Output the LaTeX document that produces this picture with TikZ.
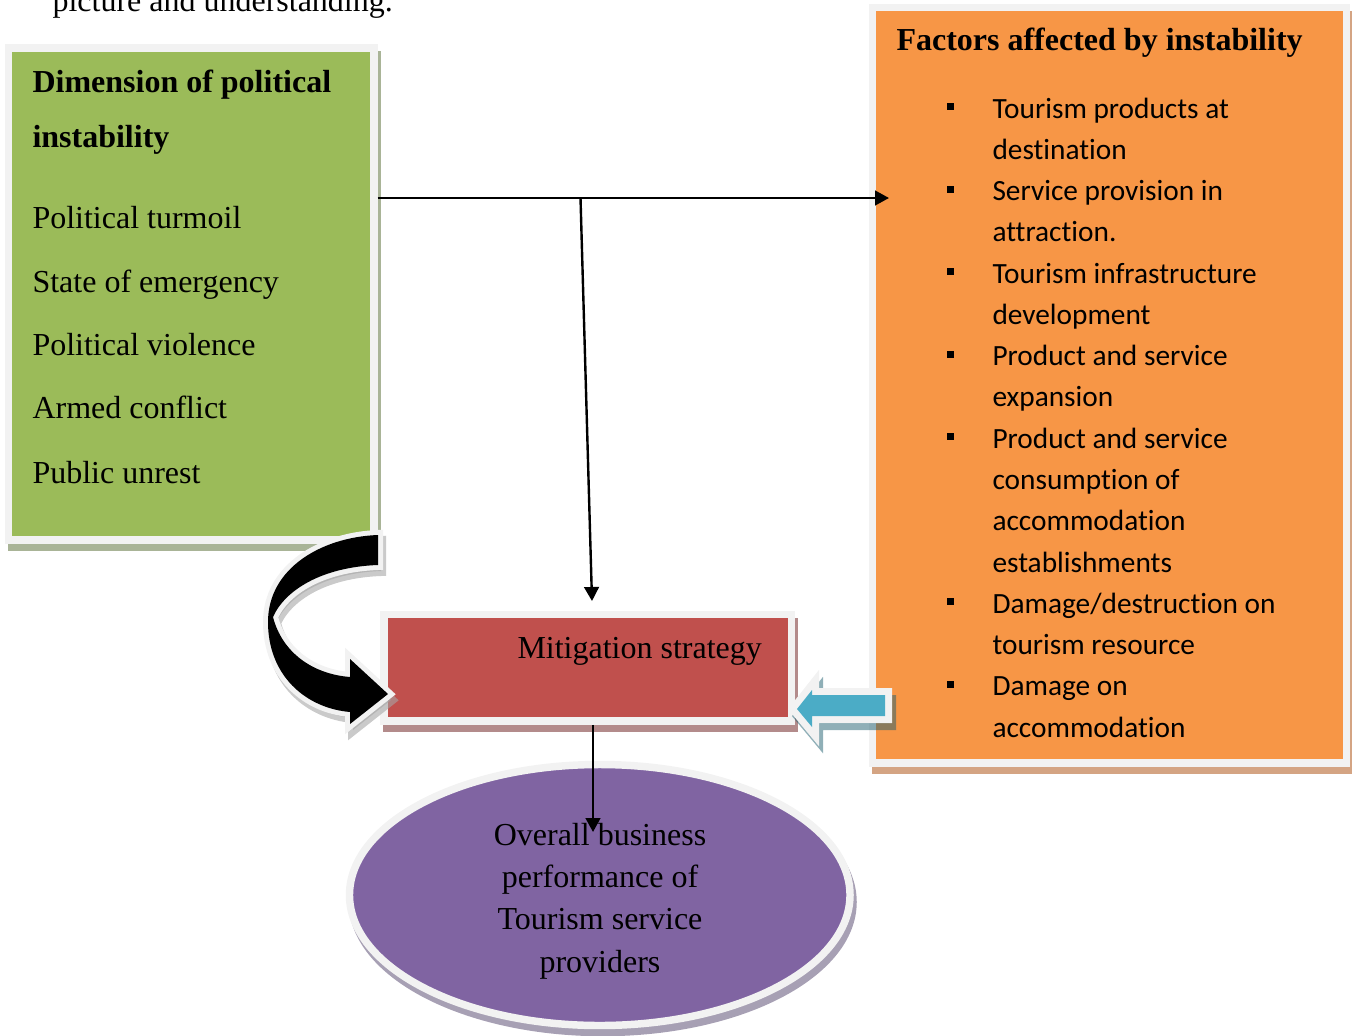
\documentclass[tikz,border=0pt]{standalone}
\usepackage{fontspec}
\setmainfont{Liberation Serif}
\newfontfamily\calfont[Ligatures=NoCommon]{Carlito}
\usetikzlibrary{arrows.meta,shapes.geometric}

\definecolor{framegray}{HTML}{F2F2F2}
\definecolor{dimgreen}{HTML}{9BBB59}
\definecolor{dimshadow}{HTML}{A9B497}
\definecolor{facorange}{HTML}{F79646}
\definecolor{facshadow}{HTML}{D4A483}
\definecolor{mitred}{HTML}{C0504D}
\definecolor{mitshadow}{HTML}{B38B8B}
\definecolor{perfpurple}{HTML}{8064A2}
\definecolor{perfshadow}{HTML}{A7A0B4}
\definecolor{arrowblue}{HTML}{4BACC6}
\definecolor{blueshadow}{HTML}{1F5F70}

\tikzset{every picture/.style={line width=0.75pt}}

\begin{document}
\begin{tikzpicture}[x=0.75pt,y=0.75pt,yscale=-1,xscale=1,
  boxframe/.style={draw=framegray,line width=5.6pt,inner sep=0pt},
  boxshadow/.style={preaction={draw=#1,fill=#1,line width=5.6pt,transform canvas={xshift=2.25pt,yshift=-5.25pt}}},
  txt/.style={anchor=base west,inner sep=0pt,font=\fontsize{24}{28}\selectfont},
  ctxt/.style={anchor=base,inner sep=0pt,font=\fontsize{24}{28}\selectfont},
  ltxt/.style={anchor=base west,inner sep=0pt,font=\calfont\fontsize{22}{26}\selectfont},
  conn/.style={line width=1.8pt,-{Triangle[length=10.5pt,width=11pt]}}]
\useasboundingbox (0,0) rectangle (1352,1035);

% Boxes
\node[boxframe,boxshadow=dimshadow,fill=dimgreen,minimum width=274.1pt,minimum height=369pt] (dim) at (191.25,294) {};
\node[boxframe,boxshadow=facshadow,fill=facorange,minimum width=355.5pt,minimum height=566.6pt] (fac) at (1109.5,385.25) {};
\node[boxframe,boxshadow=mitshadow,fill=mitred,minimum width=305.6pt,minimum height=79.9pt] (mit) at (587.75,667.75) {};
\node[boxframe,boxshadow=perfshadow,fill=perfpurple,ellipse,minimum width=375.4pt,minimum height=195.75pt] (perf) at (599.75,895) {};

% Text Node
\node[txt] (cap) at (52,12) {picture and understanding.};
% Text Node
\node[txt,font=\fontsize{24}{28}\selectfont\bfseries] (dimt1) at (32,92) {Dimension of political};
\node[txt,font=\fontsize{24}{28}\selectfont\bfseries] (dimt2) at (32,147) {instability};
% Text Node
\node[txt] (dim1) at (32,228) {Political turmoil};
\node[txt] (dim2) at (32,292) {State of emergency};
\node[txt] (dim3) at (32,355) {Political violence};
\node[txt] (dim4) at (32,418) {Armed conflict};
\node[txt] (dim5) at (32,483) {Public unrest};

% Text Node
\node[txt,font=\fontsize{24}{28}\selectfont\bfseries] (fact) at (896,50) {Factors affected by instability};
% Text Node
\node[ltxt] (fac1) at (946,118) {\rule[6pt]{5.25pt}{5.25pt}\hspace{29.25pt}Tourism products at};
\node[ltxt] (fac2) at (992,159.3) {destination};
\node[ltxt] (fac3) at (946,200.5) {\rule[6pt]{5.25pt}{5.25pt}\hspace{29.25pt}Service provision in};
\node[ltxt] (fac4) at (992,241.8) {attraction.};
\node[ltxt] (fac5) at (946,283.1) {\rule[6pt]{5.25pt}{5.25pt}\hspace{29.25pt}Tourism infrastructure};
\node[ltxt] (fac6) at (992,324.4) {development};
\node[ltxt] (fac7) at (946,365.6) {\rule[6pt]{5.25pt}{5.25pt}\hspace{29.25pt}Product and service};
\node[ltxt] (fac8) at (992,406.9) {expansion};
\node[ltxt] (fac9) at (946,448.2) {\rule[6pt]{5.25pt}{5.25pt}\hspace{29.25pt}Product and service};
\node[ltxt] (fac10) at (992,489.4) {consumption of};
\node[ltxt] (fac11) at (992,530.7) {accommodation};
\node[ltxt] (fac12) at (992,572) {establishments};
\node[ltxt] (fac13) at (946,613.2) {\rule[6pt]{5.25pt}{5.25pt}\hspace{29.25pt}Damage/destruction on};
\node[ltxt] (fac14) at (992,654.5) {tourism resource};
\node[ltxt] (fac15) at (946,695.8) {\rule[6pt]{5.25pt}{5.25pt}\hspace{29.25pt}Damage on};
\node[ltxt] (fac16) at (992,737) {accommodation};

% Text Node
\node[txt] (mitt) at (517,658) {Mitigation strategy};
% Text Node
\node[ctxt] (perf1) at (600,845) {Overall business};
\node[ctxt] (perf2) at (600,887.3) {performance of};
\node[ctxt] (perf3) at (600,929.7) {Tourism service};
\node[ctxt] (perf4) at (600,972) {providers};

% Curved block arrow
\path[fill=black,preaction={draw=black!35,fill=black!35,opacity=0.6,line width=7.5pt,transform canvas={xshift=2.25pt,yshift=-4.5pt}},preaction={draw=framegray,line width=7.5pt}]
  (378,535) .. controls (322,537) and (268,568) .. (268,622) .. controls (268,675) and (305,708) .. (350,712) -- (350,724) -- (388,694) -- (350,659) -- (350,677) .. controls (312,674) and (282,652) .. (273,617) .. controls (285,590) and (322,567) .. (378,565) -- cycle;
% Blue block arrow
\path[fill=arrowblue,line join=miter,preaction={draw=blueshadow,fill=blueshadow,opacity=0.5,line width=10.5pt,transform canvas={xshift=3pt,yshift=-5.25pt}},preaction={draw=framegray,line width=10.5pt}]
  (885,695) -- (812,695) -- (812,690) -- (797,709) -- (812,727) -- (812,716) -- (885,716) -- cycle;

% Connectors
\coordinate (hin) at (889,198);
\coordinate (split) at (580.5,198);
\coordinate (mitin) at (592,601);
\coordinate (perfin) at (593,832);
\draw[conn] (dim.east |- hin) -- (hin);
\draw[conn] (split) -- (mitin);
\draw[conn] (mit.south -| perfin) -- (perfin);

\end{tikzpicture}
\end{document}
